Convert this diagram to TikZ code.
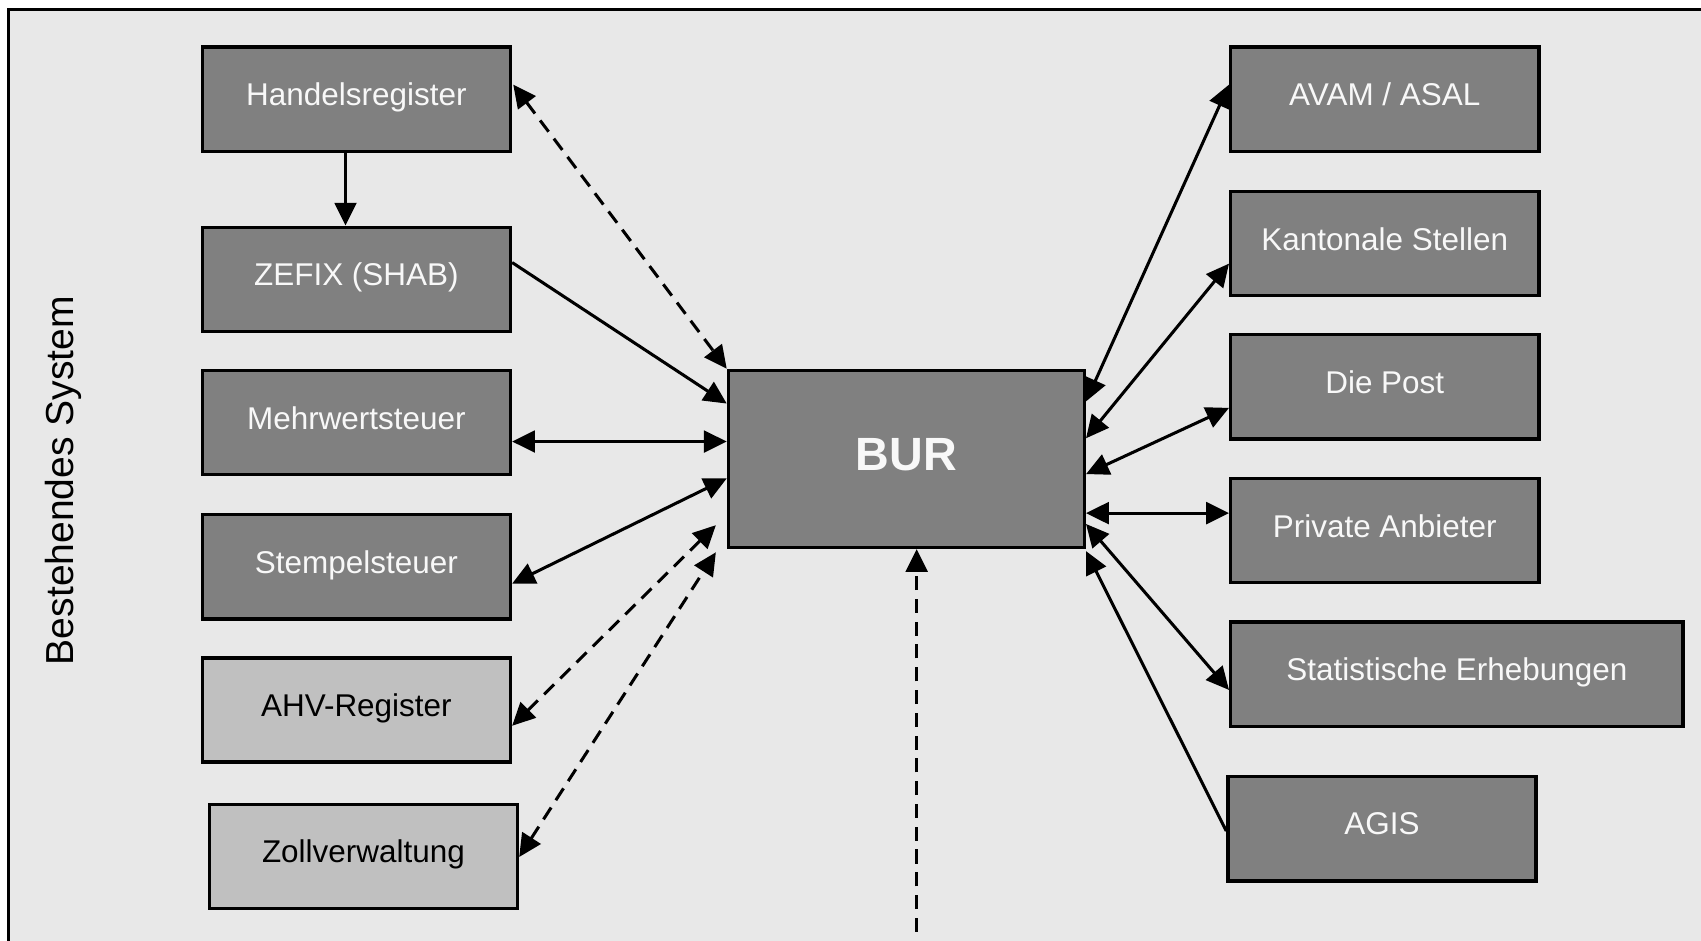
\documentclass[tikz,border=0pt]{standalone}
\usepackage{fontspec}
\setmainfont{Liberation Sans}
\usetikzlibrary{arrows.meta,calc}
\definecolor{bg}{HTML}{E8E8E8}
\definecolor{darkbox}{HTML}{808080}
\definecolor{lightbox}{HTML}{C0C0C0}
\definecolor{boxtext}{HTML}{F8F8F8}
\begin{document}
\begin{tikzpicture}[x=1pt,y=-1pt,
  boxbase/.style={draw=black,line width=3.2pt,rectangle,inner sep=0pt,
    minimum width=284pt,minimum height=96pt,font=\fontsize{29}{34}\selectfont},
  darkbx/.style={boxbase,fill=darkbox,text=boxtext},
  lightbx/.style={boxbase,fill=lightbox,text=black},
  conn/.style={line width=2.8pt,draw=black},
  tip/.style={-{Triangle[length=21pt,width=20pt]}},
  dtip/.style={{Triangle[length=21pt,width=20pt]}-{Triangle[length=21pt,width=20pt]}},
  dashline/.style={dash pattern=on 13pt off 8pt}]
\useasboundingbox (0,0) rectangle (1568,867);
\clip (0,0) rectangle (1568,867);
\fill[white] (0,0) rectangle (1568,867);
\draw[line width=3pt,fill=bg] (8,9) rectangle (1640,920);

\node[rotate=90,font=\fontsize{36}{40}\selectfont] (title) at (58,443) {Bestehendes System};

% left column
\node[darkbx] (hr) at (328.5,91.5) {\raisebox{9pt}{Handelsregister}};
\node[darkbx] (zefix) at (328.5,257.5) {\raisebox{9pt}{ZEFIX (SHAB)}};
\node[darkbx] (mwst) at (328.5,389.5) {\raisebox{9pt}{Mehrwertsteuer}};
\node[darkbx] (stempel) at (328.5,522.5) {\raisebox{9pt}{Stempelsteuer}};
\node[lightbx] (ahv) at (328.5,654.5) {\raisebox{9pt}{AHV-Register}};
\node[lightbx] (zoll) at (335,789.5) {\raisebox{9pt}{Zollverwaltung}};

% centre
\node[darkbx,minimum width=328pt,minimum height=163pt,
  font=\fontsize{43}{48}\selectfont\bfseries] (bur) at (835.5,423) {\raisebox{9pt}{BUR}};

% right column
\node[darkbx] (avam) at (1276.5,91.5) {\raisebox{9pt}{AVAM / ASAL}};
\node[darkbx] (kant) at (1276.5,224.5) {\raisebox{9pt}{Kantonale Stellen}};
\node[darkbx] (post) at (1276.5,356.5) {\raisebox{9pt}{Die Post}};
\node[darkbx] (priv) at (1276.5,489) {\raisebox{9pt}{Private Anbieter}};
\node[darkbx,minimum width=417pt] (stat) at (1343,621.5) {\raisebox{9pt}{Statistische Erhebungen}};
\node[darkbx] (agis) at (1274,764) {\raisebox{9pt}{AGIS}};

\coordinate (ahvend) at ($(bur.south west)+(-10,-22)$);
\coordinate (zollend) at ($(bur.south west)+(-10,3)$);
\coordinate (bottom) at (845,880);

% left connectors
\draw[conn,tip] ($(hr.south)+(-10,0)$) -- ($(zefix.north)+(-10,0)$);
\draw[conn,dtip,dashline] ($(hr.east)+(1,-13.5)$) -- (bur.north west);
\draw[conn,tip] ($(zefix.east)+(0,-15.5)$) -- ($(bur.west)+(0,-51)$);
\draw[conn,dtip] ($(mwst.east)+(0,17.5)$) -- ($(bur.west)+(0,-16)$);
\draw[conn,dtip] ($(stempel.east)+(0,15.5)$) -- ($(bur.west)+(0,18)$);
\draw[conn,dtip,dashline] ($(ahv.east)+(0,14.5)$) -- (ahvend);
\draw[conn,dtip,dashline] ($(zoll.east)+(0,0.5)$) -- (zollend);
\draw[conn,tip,dashline] (bottom) -- ($(bur.south)+(9.5,0)$);

% right connectors
\draw[conn,dtip] ($(bur.east)+(0,-53)$) -- ($(avam.west)+(0,-13.5)$);
\draw[conn,dtip] ($(bur.east)+(0,-19)$) -- ($(kant.west)+(0,18.5)$);
\draw[conn,dtip] ($(bur.east)+(0,14)$) -- ($(post.west)+(0,19.5)$);
\draw[conn,dtip] ($(bur.east)+(0,50)$) -- ($(priv.west)+(0,-16)$);
\draw[conn,dtip] ($(bur.east)+(0,60)$) -- ($(stat.west)+(0,14.5)$);
\draw[conn,tip] ($(agis.west)+(0,2)$) -- ($(bur.east)+(0,85)$);
\end{tikzpicture}
\end{document}
